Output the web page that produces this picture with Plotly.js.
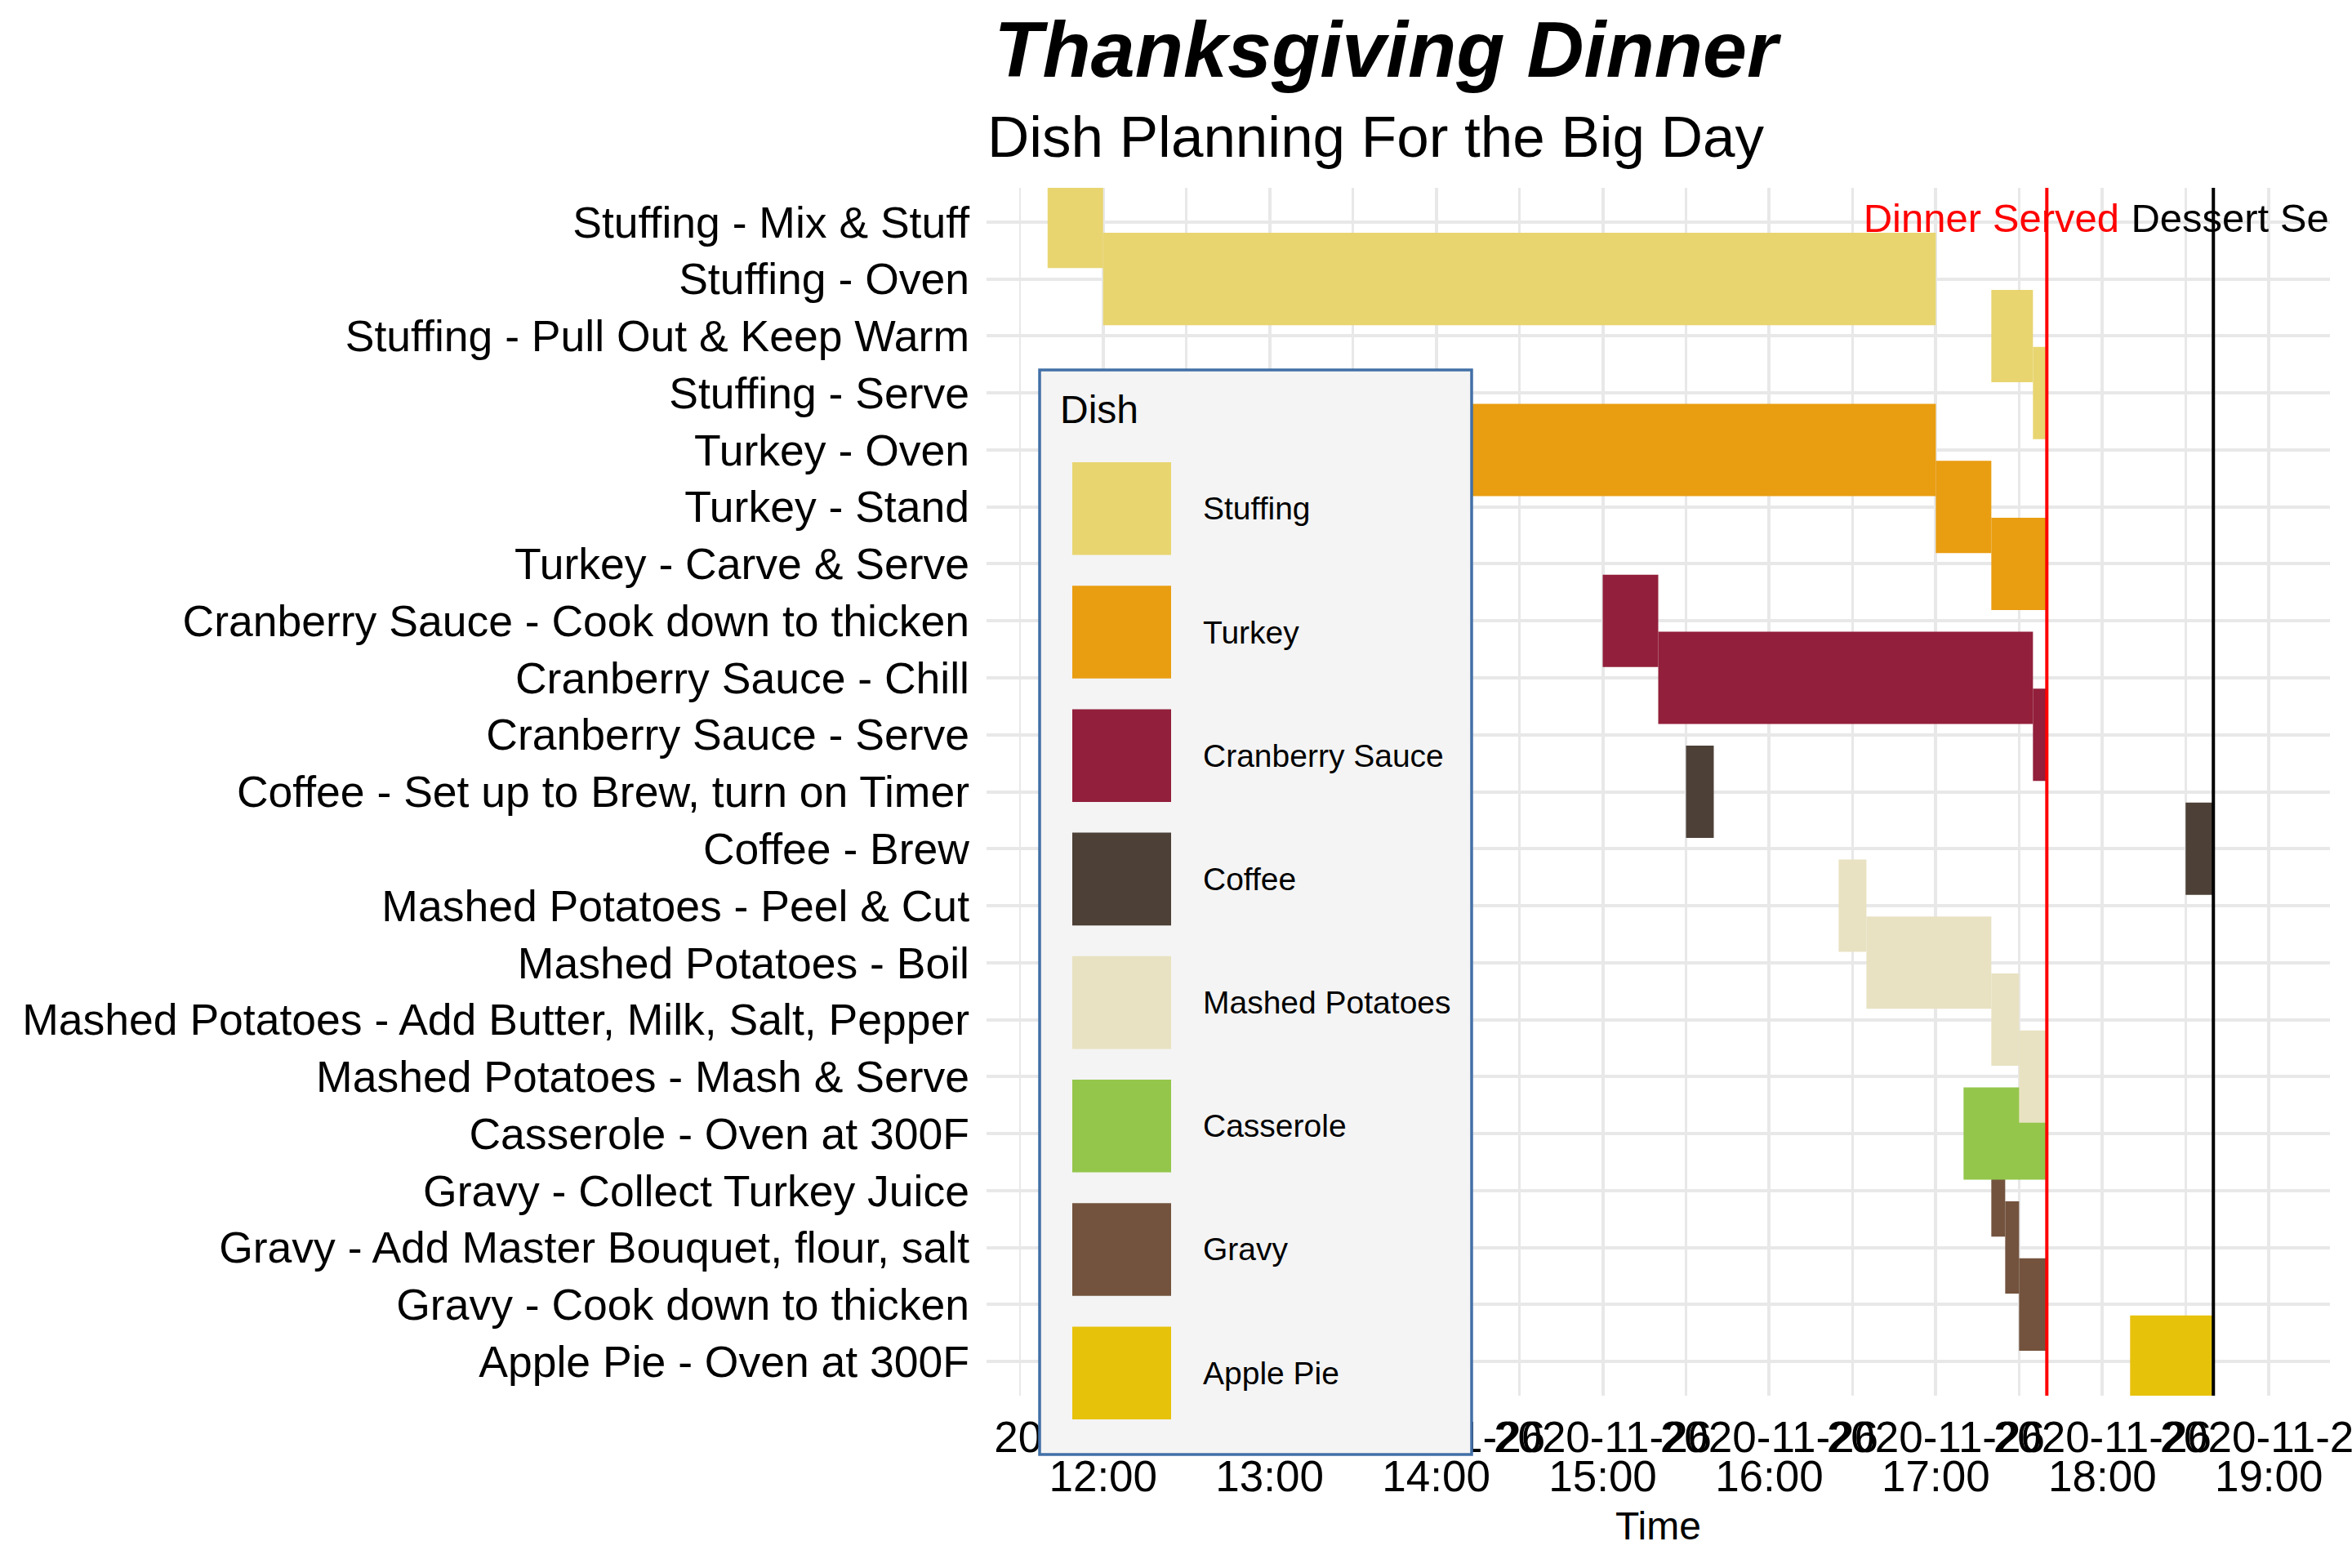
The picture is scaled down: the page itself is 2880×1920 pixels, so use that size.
<!DOCTYPE html>
<html><head><meta charset="utf-8">
<script src="https://cdn.plot.ly/plotly-3.0.1.min.js"></script>
<style>html,body{margin:0;padding:0;background:#fff;} #chart{width:2880px;height:1920px;}</style>
</head><body><div id="chart"></div>
<script>
// ---------------- data ----------------
const taskLabels = [
  'Stuffing - Mix & Stuff', 'Stuffing - Oven', 'Stuffing - Pull Out & Keep Warm', 'Stuffing - Serve',
  'Turkey - Oven', 'Turkey - Stand', 'Turkey - Carve & Serve',
  'Cranberry Sauce - Cook down to thicken', 'Cranberry Sauce - Chill', 'Cranberry Sauce - Serve',
  'Coffee - Set up to Brew, turn on Timer', 'Coffee - Brew',
  'Mashed Potatoes - Peel & Cut', 'Mashed Potatoes - Boil',
  'Mashed Potatoes - Add Butter, Milk, Salt, Pepper', 'Mashed Potatoes - Mash & Serve',
  'Casserole - Oven at 300F',
  'Gravy - Collect Turkey Juice', 'Gravy - Add Master Bouquet, flour, salt', 'Gravy - Cook down to thicken',
  'Apple Pie - Oven at 300F'
];
const taskDish = [
  'Stuffing', 'Stuffing', 'Stuffing', 'Stuffing',
  'Turkey', 'Turkey', 'Turkey',
  'Cranberry Sauce', 'Cranberry Sauce', 'Cranberry Sauce',
  'Coffee', 'Coffee',
  'Mashed Potatoes', 'Mashed Potatoes', 'Mashed Potatoes', 'Mashed Potatoes',
  'Casserole',
  'Gravy', 'Gravy', 'Gravy',
  'Apple Pie'
];
const taskStart = [
  '2020-11-26 11:40', '2020-11-26 12:00', '2020-11-26 17:20', '2020-11-26 17:35',
  '2020-11-26 13:00', '2020-11-26 17:00', '2020-11-26 17:20',
  '2020-11-26 15:00', '2020-11-26 15:20', '2020-11-26 17:35',
  '2020-11-26 15:30', '2020-11-26 18:30',
  '2020-11-26 16:25', '2020-11-26 16:35', '2020-11-26 17:20', '2020-11-26 17:30',
  '2020-11-26 17:10',
  '2020-11-26 17:20', '2020-11-26 17:25', '2020-11-26 17:30',
  '2020-11-26 18:10'
];
const taskEnd = [
  '2020-11-26 12:00', '2020-11-26 17:00', '2020-11-26 17:35', '2020-11-26 17:40',
  '2020-11-26 17:00', '2020-11-26 17:20', '2020-11-26 17:40',
  '2020-11-26 15:20', '2020-11-26 17:35', '2020-11-26 17:40',
  '2020-11-26 15:40', '2020-11-26 18:40',
  '2020-11-26 16:35', '2020-11-26 17:20', '2020-11-26 17:30', '2020-11-26 17:40',
  '2020-11-26 17:40',
  '2020-11-26 17:25', '2020-11-26 17:30', '2020-11-26 17:40',
  '2020-11-26 18:40'
];
const dishNames = ['Stuffing', 'Turkey', 'Cranberry Sauce', 'Coffee', 'Mashed Potatoes', 'Casserole', 'Gravy', 'Apple Pie'];
const dishColors = ['#E8D570', '#E99D11', '#921F3B', '#4D4037', '#E8E2C2', '#94C64B', '#73533E', '#E7C20B'];

const hourTicks = ['2020-11-26 12:00', '2020-11-26 13:00', '2020-11-26 14:00', '2020-11-26 15:00',
                   '2020-11-26 16:00', '2020-11-26 17:00', '2020-11-26 18:00', '2020-11-26 19:00'];
const dateTickText = ['2020-11-26', '2020-11-26', '2020-11-26', '2020-11-26',
                      '2020-11-26', '2020-11-26', '2020-11-26', '2020-11-26'];
const timeTickText = ['12:00', '13:00', '14:00', '15:00', '16:00', '17:00', '18:00', '19:00'];

const eventTimes = ['2020-11-26 17:40', '2020-11-26 18:40'];
const eventLabels = ['Dinner Served', 'Dessert Served'];
const eventLabelTimes = ['2020-11-26 17:20', '2020-11-26 19:00'];
const eventColors = ['#FF0000', '#000000'];

const xRange = ['2020-11-26 11:18', '2020-11-26 19:22'];

// ---------------- layout geometry ----------------
const W = 2880, H = 1920;
const ML = 1208, MR = 27, MT = 230, MB = 211;
const PW = W - ML - MR, PH = H - MT - MB;
const px = x => (x - ML) / PW;
const py = y => 1 - (y - MT) / PH;
const FONT = 'Liberation Sans, Arial, sans-serif';
const GRID = '#E8E8E8';

const toMs = s => Date.parse(s.replace(' ', 'T') + ':00');

// ---------------- traces ----------------
const traces = [];
for (let d = dishNames.length - 1; d >= 0; d--) {
  const ys = [], bases = [], lens = [];
  taskLabels.forEach((t, i) => {
    if (taskDish[i] === dishNames[d]) {
      ys.push(t);
      bases.push(taskStart[i]);
      lens.push(toMs(taskEnd[i]) - toMs(taskStart[i]));
    }
  });
  traces.push({
    type: 'bar', orientation: 'h', name: dishNames[d],
    y: ys, x: lens, base: bases, width: 1.62,
    marker: {color: dishColors[d], line: {width: 0}},
    showlegend: false, hoverinfo: 'skip', xaxis: 'x', yaxis: 'y'
  });
}
eventLabels.forEach((lab, i) => {
  traces.push({
    type: 'scatter', mode: 'text', x: [eventLabelTimes[i]], y: [taskLabels[0]],
    text: [lab], textposition: 'middle center', cliponaxis: true,
    textfont: {family: FONT, size: 49, color: eventColors[i]},
    showlegend: false, hoverinfo: 'skip', xaxis: 'x2', yaxis: 'y'
  });
});

// ---------------- shapes & annotations ----------------
const shapes = [];
eventTimes.forEach((t, i) => {
  shapes.push({type: 'line', xref: 'x', yref: 'paper', x0: t, x1: t, y0: 0, y1: 1,
               line: {color: eventColors[i], width: 4}, layer: 'above'});
});
// legend box
shapes.push({type: 'rect', xref: 'paper', yref: 'paper', x0: px(1273), x1: px(1802), y0: py(1781), y1: py(453),
             fillcolor: '#F4F4F4', line: {color: '#4270A6', width: 3.5}, layer: 'above'});
const annotations = [];
annotations.push({xref: 'paper', yref: 'paper', x: px(1296), y: py(501), xanchor: 'left', yanchor: 'middle',
                  text: 'Dish', showarrow: false, font: {family: FONT, size: 48, color: '#000'}});
dishNames.forEach((name, i) => {
  const top = 566 + i * 151.2;
  shapes.push({type: 'rect', xref: 'paper', yref: 'paper', x0: px(1313), x1: px(1434),
               y0: py(top + 113.6), y1: py(top), fillcolor: dishColors[i], line: {width: 0}, layer: 'above'});
  annotations.push({xref: 'paper', yref: 'paper', x: px(1471), y: py(top + 56.8), xanchor: 'left', yanchor: 'middle',
                    text: name, showarrow: false, font: {family: FONT, size: 39, color: '#000'}});
});
// subtitle
annotations.push({xref: 'paper', yref: 'paper', x: px(1685), y: py(167), xanchor: 'center', yanchor: 'middle',
                  text: 'Dish Planning For the Big Day', showarrow: false,
                  font: {family: FONT, size: 71, color: '#000'}});

const layout = {
  width: W, height: H,
  margin: {l: ML, r: MR, t: MT, b: MB, pad: 0},
  paper_bgcolor: '#FFFFFF', plot_bgcolor: '#FFFFFF',
  font: {family: FONT, color: '#000'},
  barmode: 'overlay',
  showlegend: false,
  title: {text: '<b><i>Thanksgiving Dinner</i></b>', font: {family: FONT, size: 97, color: '#000'},
          xref: 'container', yref: 'container', x: 1697 / W, xanchor: 'center', y: 1 - 60 / H, yanchor: 'middle'},
  xaxis: {
    type: 'date', range: xRange, tickmode: 'array', tickvals: hourTicks, ticktext: dateTickText,
    tickangle: 0, ticklabeloverflow: 'allow', ticks: '', ticklabelstandoff: 15,
    tickfont: {family: FONT, size: 53, color: '#000'},
    showgrid: true, gridcolor: GRID, gridwidth: 4, zeroline: false, showline: false,
    minor: {dtick: 1800000, tick0: '2020-11-26 00:00', showgrid: true, gridcolor: GRID, gridwidth: 2.5, ticks: ''},
    fixedrange: true
  },
  xaxis2: {
    type: 'date', range: xRange, overlaying: 'x', anchor: 'y', side: 'bottom',
    tickmode: 'array', tickvals: hourTicks, ticktext: timeTickText,
    tickangle: 0, ticklabeloverflow: 'allow', ticks: '', ticklabelstandoff: 63,
    tickfont: {family: FONT, size: 53, color: '#000'},
    showgrid: false, zeroline: false, showline: false,
    title: {text: 'Time', font: {family: FONT, size: 48, color: '#000'}, standoff: 15}
  },
  yaxis: {
    type: 'category', categoryorder: 'array', categoryarray: taskLabels,
    range: [20.6, -0.6], ticks: '', ticklabelstandoff: 20,
    tickfont: {family: FONT, size: 53.5, color: '#000'},
    showgrid: true, gridcolor: GRID, gridwidth: 4, zeroline: false, showline: false
  },
  shapes: shapes,
  annotations: annotations
};

Plotly.newPlot('chart', traces, layout, {staticPlot: true, displayModeBar: false});
</script>
</body></html>
